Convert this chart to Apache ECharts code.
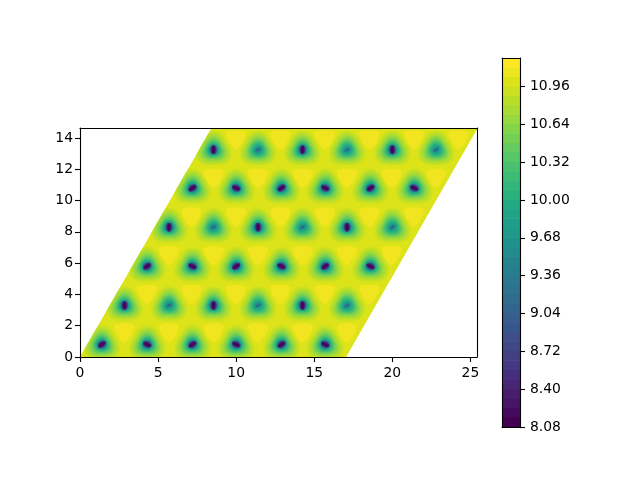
<!DOCTYPE html>
<html><head><meta charset="utf-8">
<style>html,body{margin:0;padding:0;background:#fff}#c{width:640px;height:480px}</style>
<script src="https://cdn.jsdelivr.net/npm/echarts@6/dist/echarts.min.js"></script>
</head><body><div id="c"></div>
<script>
var xTicks=[0,5,10,15,20,25];
var yTicks=[0,2,4,6,8,10,12,14];
var barTicks=[8.08,8.40,8.72,9.04,9.36,9.68,10.00,10.32,10.64,10.96];
var barLevels=[8.08,8.16,8.24,8.32,8.40,8.48,8.56,8.64,8.72,8.80,8.88,8.96,9.04,9.12,9.20,9.28,9.36,9.44,9.52,9.60,9.68,9.76,9.84,9.92,10.00,10.08,10.16,10.24,10.32,10.40,10.48,10.56,10.64,10.72,10.80,10.88,10.96,11.04,11.12,11.20];
var viridis=['#440154','#471365','#482475','#463480','#414487','#3b528b','#35608d','#2e6e8e','#2a788e','#25848e','#21918c','#1f9e89','#22a884','#2fb47c','#43bf71','#5ec962','#7ad151','#9bd93c','#bddf26','#dfe318','#fde725'];
var cell=[[0,0],[17.04,0],[25.5,14.7],[8.46,14.7]];
var baseValue=10.96, brightValue=11.06;
// wells: x, y, kind  (V vertical, R rising, F falling, W weak)
var wellX=[1.4,4.3,7.2,10.0,12.9,15.7, 2.85,5.7,8.55,11.4,14.25,17.1, 4.3,7.2,10.0,12.9,15.7,18.6, 5.7,8.55,11.4,14.25,17.1,20.0, 7.2,10.0,12.9,15.7,18.6,21.4, 8.55,11.4,14.25,17.1,20.0,22.8];
var wellY=[0.8,0.8,0.8,0.8,0.8,0.8, 3.3,3.3,3.3,3.3,3.3,3.3, 5.8,5.8,5.8,5.8,5.8,5.8, 8.3,8.3,8.3,8.3,8.3,8.3, 10.8,10.8,10.8,10.8,10.8,10.8, 13.25,13.25,13.25,13.25,13.25,13.25];
var wellKind=['R','F','R','F','R','F', 'V','W','V','W','V','W', 'R','F','R','F','R','F', 'V','W','V','W','V','W', 'R','F','R','F','R','F', 'V','W','V','W','V','W'];
var kindAngle={V:90,R:35,F:-25,W:32};
var ringValues=[10.88,10.80,10.72,10.64,10.56,10.48,10.40,10.32,10.24,10.16,10.08,10.00,9.92,9.84,9.76,9.68,9.60,9.52,9.44,9.36,9.28,9.20,9.12,9.04,8.96,8.88,8.80,8.72,8.64,8.56,8.48,8.40,8.32,8.24,8.16,8.08];
var strongRadius=[1.12,1.0,0.89,0.80,0.72,0.65,0.60,0.55,0.50,0.46,0.43,0.39,0.36,0.335,0.31,0.29,0.275,0.265,0.255,0.25,0.245,0.24,0.24,0.235,0.23,0.225,0.22,0.215,0.21,0.20,0.19,0.175,0.16,0.145,0.125,0.10];
var weakRadius=[1.12,1.0,0.89,0.80,0.72,0.65,0.60,0.55,0.50,0.455,0.41,0.36,0.31,0.27,0.235,0.20,0.17,0.145,0.125,0.105,0.09,0.08,0.065,0.055,0.045];
var ringTri=[0.11,0.11,0.11,0.10,0.10,0.09,0.08,0.07,0.06,0.05,0.04,0.03,0.03,0.02,0.02,0.01,0.01,0,0,0,0,0,0,0,0,0,0,0,0,0,0,0,0,0,0,0];
var strongStretch=[1,1,1,1,1,1,1,1,1,1,1,1.01,1.02,1.03,1.04,1.05,1.06,1.07,1.08,1.09,1.1,1.12,1.14,1.16,1.18,1.2,1.23,1.26,1.3,1.34,1.38,1.43,1.48,1.55,1.65,1.8];
var weakStretch=[1,1,1,1,1,1,1,1,1,1,1,1,1.05,1.08,1.1,1.15,1.2,1.3,1.4,1.6,1.8,2.0,2.2,2.4,2.5];
// bright rounded triangles between wells
var brightX=[2.85,5.7,8.55,11.4,14.25,17.1, 4.28,7.13,9.98,12.83,15.68,18.53, 5.7,8.55,11.4,14.25,17.1,19.95, 7.13,9.98,12.83,15.68,18.53,21.38, 8.55,11.4,14.25,17.1,19.95,22.8, 9.98,12.83,15.68,18.53,21.38,24.23];
var brightY=[1.65,1.65,1.65,1.65,1.65,1.65, 4.12,4.12,4.12,4.12,4.12,4.12, 6.59,6.59,6.59,6.59,6.59,6.59, 9.06,9.06,9.06,9.06,9.06,9.06, 11.53,11.53,11.53,11.53,11.53,11.53, 14.0,14.0,14.0,14.0,14.0,14.0];

function mapColor(t){
  var p=t*(viridis.length-1),i=Math.min(Math.floor(p),viridis.length-2),f=p-i;
  function c(s,o){return parseInt(s.substr(o,2),16);}
  var a=viridis[i],b=viridis[i+1];
  return 'rgb('+[1,3,5].map(function(o){return Math.round(c(a,o)+(c(b,o)-c(a,o))*f);}).join(',')+')';
}
function valueColor(v){return mapColor(Math.min(1,(v-8.08)/0.08/38));}
function clipCell(pts){
  var out=pts;
  for(var e=0;e<4;e++){
    var A=cell[e],B=cell[(e+1)%4],inp=out;out=[];
    var side=function(p){return (B[0]-A[0])*(p[1]-A[1])-(B[1]-A[1])*(p[0]-A[0]);};
    for(var i=0;i<inp.length;i++){
      var P=inp[i],Q=inp[(i+1)%inp.length],sp=side(P),sq=side(Q);
      if(sp>=0)out.push(P);
      if((sp>=0)!==(sq>=0)){var t=sp/(sp-sq);out.push([P[0]+(Q[0]-P[0])*t,P[1]+(Q[1]-P[1])*t]);}
    }
    if(!out.length)break;
  }
  return out;
}
function blob(cx,cy,R,tri,apexDeg,stretch,angDeg){
  var pts=[],n=48,a=angDeg*Math.PI/180,ap=apexDeg*Math.PI/180;
  for(var i=0;i<n;i++){
    var th=2*Math.PI*i/n,r=R*(1+tri*Math.cos(3*(th-ap)));
    var x=r*Math.cos(th),y=r*Math.sin(th);
    var u=x*Math.cos(a)+y*Math.sin(a),v=-x*Math.sin(a)+y*Math.cos(a);
    u*=stretch;v/=stretch;
    pts.push([cx+u*Math.cos(a)-v*Math.sin(a),cy+u*Math.sin(a)+v*Math.cos(a)]);
  }
  return pts;
}
// rounded triangle with one apex pointing down
function patch(cx,cy,d,cap){
  var pts=[],n=60,p=3;
  for(var i=0;i<n;i++){
    var th=2*Math.PI*i/n;
    var deg=(th*180/Math.PI-90+360)%120;      // 0 at the middle of the top side
    var phi=(deg>60?deg-120:deg)*Math.PI/180;
    var rf=d/Math.cos(phi);
    var r=Math.pow(Math.pow(rf,-p)+Math.pow(cap,-p),-1/p);
    pts.push([cx+r*Math.cos(th),cy+r*Math.sin(th)]);
  }
  return pts;
}
function poly(api,pts,color){
  var c=clipCell(pts);
  return {type:'polygon',shape:{points:c.map(function(p){return api.coord(p);})},style:{fill:color}};
}
var spine={show:true,onZero:false,lineStyle:{color:'#000',width:1.1}};
var tickStyle={color:'#000',width:1.1};
var labelBase={show:true,color:'#000',fontFamily:'DejaVu Sans',fontSize:13.9};
var option={
  animation:false,
  grid:[{left:80,top:128,width:397,height:229,show:false},{left:502,top:58,width:18,height:369,show:false}],
  xAxis:[
    {type:'value',gridIndex:0,min:0,max:25.42,position:'bottom',z:10,splitLine:{show:false},axisLine:spine,
     axisTick:{show:true,customValues:xTicks,length:5,lineStyle:tickStyle},
     axisLabel:Object.assign({},labelBase,{customValues:xTicks,margin:9})},
    {type:'value',gridIndex:0,min:0,max:25.42,position:'top',z:10,splitLine:{show:false},axisLine:spine,axisTick:{show:false},axisLabel:{show:false}},
    {type:'value',gridIndex:1,min:0,max:1,position:'bottom',z:10,splitLine:{show:false},axisLine:spine,axisTick:{show:false},axisLabel:{show:false}},
    {type:'value',gridIndex:1,min:0,max:1,position:'top',z:10,splitLine:{show:false},axisLine:spine,axisTick:{show:false},axisLabel:{show:false}}
  ],
  yAxis:[
    {type:'value',gridIndex:0,min:0,max:14.64,position:'left',z:10,splitLine:{show:false},axisLine:spine,
     axisTick:{show:true,customValues:yTicks,length:5,lineStyle:tickStyle},
     axisLabel:Object.assign({},labelBase,{customValues:yTicks,margin:7,padding:[3,0,0,0]})},
    {type:'value',gridIndex:0,min:0,max:14.64,position:'right',z:10,splitLine:{show:false},axisLine:spine,axisTick:{show:false},axisLabel:{show:false}},
    {type:'value',gridIndex:1,min:8.08,max:11.2,position:'right',z:10,splitLine:{show:false},axisLine:spine,
     axisTick:{show:true,customValues:barTicks,length:5,lineStyle:tickStyle},
     axisLabel:Object.assign({},labelBase,{customValues:barTicks,margin:10,padding:[4,0,0,0],
       formatter:function(v){return v.toFixed(2);}})},
    {type:'value',gridIndex:1,min:8.08,max:11.2,position:'left',z:10,splitLine:{show:false},axisLine:spine,axisTick:{show:false},axisLabel:{show:false}}
  ],
  series:[
    {type:'custom',xAxisIndex:0,yAxisIndex:0,clip:true,silent:true,data:[0],z:1,
     renderItem:function(p,api){return poly(api,cell,valueColor(baseValue));}},
    {type:'custom',xAxisIndex:0,yAxisIndex:0,clip:true,silent:true,z:2,
     data:brightX.map(function(x,i){return [x,brightY[i]];}),
     renderItem:function(p,api){
       return poly(api,patch(api.value(0),api.value(1),0.55,0.85),valueColor(brightValue));
     }},
    {type:'custom',xAxisIndex:0,yAxisIndex:0,clip:true,silent:true,z:3,
     data:wellX.map(function(x,i){return [x,wellY[i],i];}),
     renderItem:function(p,api){
       var i=api.value(2),k=wellKind[i],weak=k==='W',rad=weak?weakRadius:strongRadius,ch=[];
       for(var j=0;j<rad.length;j++){
         var st=weak?weakStretch[j]:strongStretch[j];
         ch.push(poly(api,blob(wellX[i],wellY[i],rad[j],ringTri[j],90,st,kindAngle[k]),valueColor(ringValues[j])));
       }
       return {type:'group',children:ch};
     }},
    {type:'custom',xAxisIndex:2,yAxisIndex:2,clip:true,silent:true,z:1,
     data:barLevels.slice(0,-1).map(function(v,i){return [v,barLevels[i+1]];}),
     renderItem:function(p,api){
       var a=api.coord([0,api.value(0)]),b=api.coord([1,api.value(1)]);
       var col=valueColor(api.value(0));
       return {type:'rect',shape:{x:a[0],y:b[1]-0.6,width:b[0]-a[0],height:a[1]-b[1]+0.6},style:{fill:col}};
     }}
  ]
};
echarts.init(document.getElementById('c'),null,{renderer:'canvas'}).setOption(option);
</script></body></html>
